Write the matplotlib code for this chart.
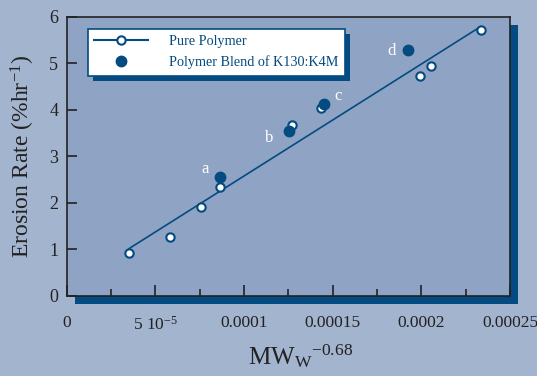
import matplotlib
matplotlib.use("Agg")
import matplotlib.pyplot as plt
from matplotlib.patches import Rectangle
from matplotlib.ticker import MultipleLocator
import numpy as np

# pure polymer: MWw^-0.68 vs erosion rate
pure_x = [3.51e-5, 5.82e-5, 7.57e-5, 8.64e-5, 1.269e-4, 1.432e-4, 1.99e-4, 2.052e-4, 2.333e-4]
pure_y = [0.92, 1.26, 1.92, 2.34, 3.68, 4.04, 4.73, 4.95, 5.72]

# polymer blends K130:K4M
blend_x = [8.64e-5, 1.253e-4, 1.45e-4, 1.923e-4]
blend_y = [2.56, 3.55, 4.13, 5.29]
blend_labels = ["a", "b", "c", "d"]

x_ticks = [0, 5e-5, 1e-4, 1.5e-4, 2e-4, 2.5e-4]
x_ticklabels = ["0", "5 10$^{-5}$", "0.0001", "0.00015", "0.0002", "0.00025"]

bg = "#a3b4cf"
face = "#8fa4c4"
dark = "#034b80"

plt.rcParams["font.family"] = ["Liberation Serif", "DejaVu Serif"]
plt.rcParams["mathtext.fontset"] = "custom"
plt.rcParams["mathtext.rm"] = "Liberation Serif"
plt.rcParams["mathtext.it"] = "Liberation Serif:italic"

fig = plt.figure(figsize=(5.37, 3.76), dpi=100, facecolor=bg)
ax = fig.add_axes([0.124, 0.2128, 0.826, 0.742])
ax.set_facecolor(face)

# drop shadow behind axes
W, H = 537, 376
off = 8
fig.patches.append(Rectangle((0.124 + off / W, 0.2128 - off / H), 0.826, 0.742,
                             transform=fig.transFigure, facecolor=dark,
                             edgecolor="none", zorder=-1))

# regression line for pure polymer
k, b = np.polyfit(pure_x, pure_y, 1)
lx = np.array([min(pure_x), max(pure_x)])
ax.plot(lx, k * lx + b, color=dark, lw=1.2, zorder=2)

ax.plot(pure_x, pure_y, "o", ms=6, mfc="white", mec=dark, mew=1.5, zorder=3)
ax.plot(blend_x, blend_y, "o", ms=7.5, mfc=dark, mec=dark, zorder=3)

lab_off = [(-11, 6), (-14, -5), (10, 6), (-12, -1)]
for x, y, t, o in zip(blend_x, blend_y, blend_labels, lab_off):
    ax.annotate(t, (x, y), xytext=o, textcoords="offset points", zorder=12,
                color="white", fontsize=12, ha="center", va="center")

ax.set_xlim(0, 2.5e-4)
ax.set_ylim(0, 6)
ax.set_xticks(x_ticks)
ax.set_xticklabels(x_ticklabels)
ax.xaxis.set_minor_locator(MultipleLocator(2.5e-5))
ax.tick_params(axis="x", which="major", direction="in", length=8, width=1.2,
               pad=14, labelsize=12.5, colors="#222222")
ax.tick_params(axis="x", which="minor", direction="in", length=5, width=1.2,
               colors="#222222")
ax.tick_params(axis="y", direction="in", length=7, width=1.2, pad=6,
               labelsize=13, colors="#222222")
for s in ax.spines.values():
    s.set_color("#222222")
    s.set_linewidth(1.2)

ax.set_ylabel("Erosion Rate (%hr$^{-1}$)", fontsize=17, color="#222222", labelpad=9)
fig.text(0.56, 0.03, "$\\mathrm{MW_W}{}^{-0.68}$", fontsize=18, color="#222222",
         ha="center")

# legend box with its own shadow
h1, = ax.plot([], [], "-o", color=dark, ms=6, mfc="white", mec=dark, mew=1.5)
h2, = ax.plot([], [], "o", ms=7.5, color=dark)
leg = ax.legend([h1, h2], ["Pure Polymer", "Polymer Blend of K130:K4M"],
                loc="upper left", bbox_to_anchor=(0.048, 0.957), borderaxespad=0,
                fontsize=10.2, fancybox=False, framealpha=1, edgecolor=dark,
                handlelength=3.8, handletextpad=1.5, borderpad=0.45,
                labelspacing=0.5)
for t in leg.get_texts():
    t.set_color(dark)
leg.get_frame().set_linewidth(1.2)
leg.set_zorder(10)
fig.canvas.draw()
bb = leg.get_window_extent().transformed(fig.transFigure.inverted())
ax.add_artist(Rectangle((bb.x0 + 5 / W, bb.y0 - 5 / H), bb.width, bb.height,
                        transform=fig.transFigure, facecolor=dark,
                        edgecolor="none", zorder=9))

fig.savefig("out.png", dpi=100, facecolor=bg)
